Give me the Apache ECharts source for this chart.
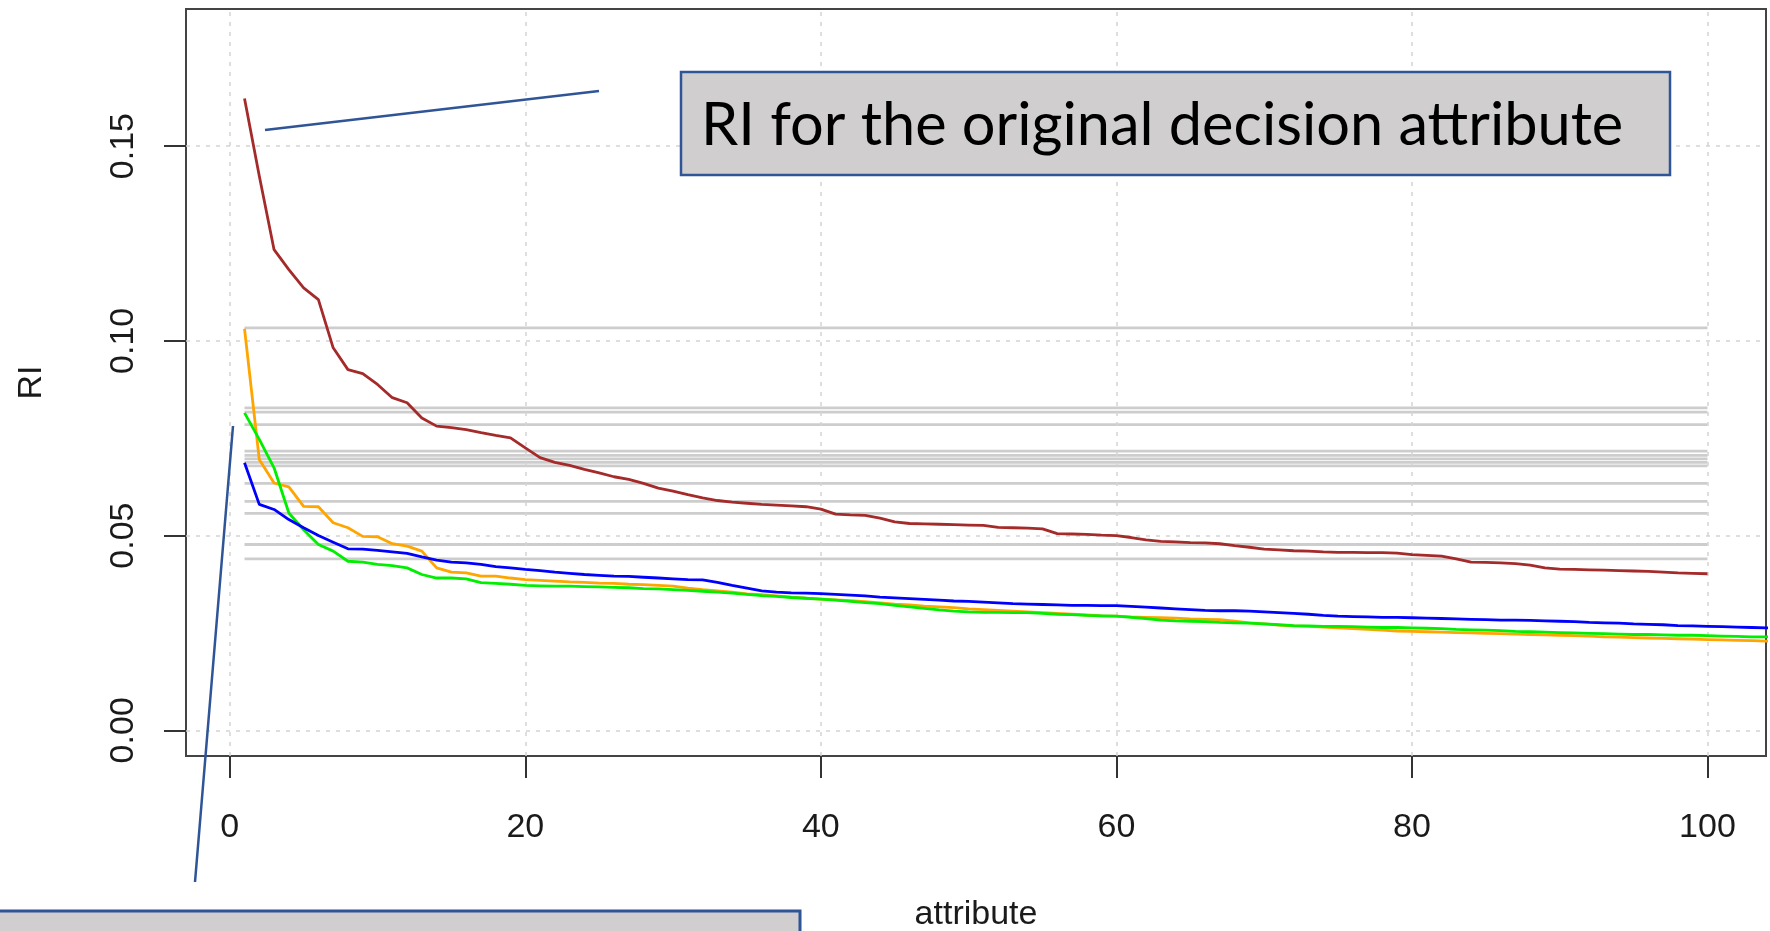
<!DOCTYPE html>
<html>
<head>
<meta charset="utf-8">
<script src="https://cdn.jsdelivr.net/npm/echarts@6/dist/echarts.min.js"></script>
<style>
html,body{margin:0;padding:0;background:#fff;}
#chart{width:1770px;height:931px;}
</style>
</head>
<body>
<div id="chart"></div>
<script>
// ---- data ----
const xTicks = [0, 20, 40, 60, 80, 100];
const yTicks = [0, 0.05, 0.10, 0.15];

const riOriginal = [
0.1622,0.1423,0.1234,0.1183,0.1136,0.1106,0.0982,0.0926,0.0916,0.0888,
0.0854,0.0841,0.0802,0.0781,0.0777,0.0772,0.0764,0.0757,0.0751,0.0725,
0.0700,0.0688,0.0680,0.0670,0.0661,0.0651,0.0644,0.0634,0.0622,0.0614,
0.0605,0.0597,0.0590,0.0586,0.0583,0.0580,0.0578,0.0576,0.0574,0.0568,
0.0555,0.0553,0.0552,0.0545,0.0535,0.0531,0.0530,0.0529,0.0528,0.0527,
0.0526,0.0521,0.0520,0.0519,0.0517,0.0505,0.0504,0.0503,0.0501,0.0500,
0.0495,0.0489,0.0485,0.0484,0.0482,0.0481,0.0479,0.0474,0.0470,0.0465,
0.0463,0.0461,0.0460,0.0458,0.0457,0.0457,0.0456,0.0456,0.0455,0.0451,
0.0449,0.0447,0.0440,0.0432,0.0431,0.0430,0.0428,0.0424,0.0417,0.0414,
0.0413,0.0412,0.0411,0.0410,0.0409,0.0408,0.0406,0.0404,0.0403,0.0402
];
const riOrange = [
0.1031,0.0695,0.0635,0.0625,0.0575,0.0574,0.0533,0.0520,0.0498,0.0497,
0.0479,0.0473,0.0460,0.0417,0.0406,0.0404,0.0396,0.0396,0.0391,0.0387,
0.0385,0.0383,0.0381,0.0380,0.0378,0.0377,0.0375,0.0374,0.0372,0.0370,
0.0365,0.0361,0.0358,0.0355,0.0350,0.0348,0.0345,0.0342,0.0339,0.0337,
0.0335,0.0333,0.0330,0.0327,0.0324,0.0322,0.0319,0.0317,0.0315,0.0312,
0.0310,0.0308,0.0306,0.0304,0.0302,0.0300,0.0298,0.0296,0.0294,0.0293,
0.0291,0.0290,0.0289,0.0288,0.0286,0.0285,0.0284,0.0280,0.0276,0.0273,
0.0270,0.0268,0.0267,0.0265,0.0263,0.0261,0.0259,0.0257,0.0255,0.0254,
0.0253,0.0252,0.0251,0.0250,0.0249,0.0248,0.0247,0.0246,0.0245,0.0244,
0.0243,0.0242,0.0240,0.0239,0.0238,0.0237,0.0236,0.0235,0.0234,0.0233,
0.0232,0.0231,0.0230,0.0229,0.0228
];
const riGreen = [
0.0815,0.0747,0.0674,0.0558,0.0515,0.0477,0.0460,0.0434,0.0432,0.0426,
0.0423,0.0417,0.0400,0.0391,0.0391,0.0389,0.0379,0.0377,0.0375,0.0372,
0.0371,0.0370,0.0370,0.0369,0.0368,0.0367,0.0366,0.0364,0.0363,0.0361,
0.0359,0.0357,0.0355,0.0352,0.0349,0.0346,0.0344,0.0341,0.0339,0.0337,
0.0334,0.0331,0.0328,0.0325,0.0321,0.0317,0.0313,0.0309,0.0306,0.0304,
0.0303,0.0303,0.0302,0.0302,0.0300,0.0298,0.0297,0.0295,0.0294,0.0293,
0.0290,0.0287,0.0283,0.0281,0.0280,0.0279,0.0277,0.0276,0.0275,0.0273,
0.0271,0.0269,0.0268,0.0267,0.0267,0.0266,0.0265,0.0264,0.0264,0.0263,
0.0262,0.0261,0.0259,0.0258,0.0257,0.0256,0.0254,0.0253,0.0252,0.0251,
0.0250,0.0249,0.0248,0.0247,0.0246,0.0246,0.0245,0.0244,0.0244,0.0243,
0.0242,0.0241,0.0240,0.0240,0.0239
];
const riBlue = [
0.0687,0.0580,0.0567,0.0541,0.0520,0.0500,0.0483,0.0466,0.0465,0.0462,
0.0458,0.0454,0.0445,0.0437,0.0432,0.0430,0.0426,0.0420,0.0417,0.0413,
0.0410,0.0406,0.0403,0.0400,0.0398,0.0396,0.0395,0.0393,0.0391,0.0389,
0.0387,0.0386,0.0380,0.0372,0.0365,0.0358,0.0355,0.0353,0.0352,0.0351,
0.0349,0.0347,0.0345,0.0342,0.0340,0.0338,0.0336,0.0334,0.0332,0.0331,
0.0329,0.0327,0.0325,0.0324,0.0323,0.0322,0.0321,0.0321,0.0320,0.0320,
0.0318,0.0316,0.0314,0.0312,0.0310,0.0308,0.0307,0.0307,0.0306,0.0304,
0.0302,0.0300,0.0298,0.0295,0.0293,0.0292,0.0291,0.0290,0.0290,0.0289,
0.0288,0.0287,0.0286,0.0285,0.0284,0.0283,0.0283,0.0282,0.0281,0.0280,
0.0279,0.0277,0.0276,0.0275,0.0273,0.0272,0.0271,0.0269,0.0268,0.0267,
0.0266,0.0265,0.0264,0.0263,0.0262
];
// horizontal reference levels (grey lines, attribute 1..100)
const greyLevels = [0.1033,0.0828,0.0817,0.0785,0.0717,0.0706,0.0697,0.0688,0.0679,0.0634,0.0588,0.0557,0.0477,0.0440];
const greySpan = [1, 100];

const calloutTop = 'RI for the original decision attribute';

// ---- chart ----
const toPairs = arr => arr.map((v, i) => [i + 1, v]);
const chart = echarts.init(document.getElementById('chart'));

const series = [];
greyLevels.forEach((lv, k) => {
  series.push({
    type: 'line', silent: true, symbol: 'none', z: 2,
    data: greySpan.map(x => [x, lv]),
    lineStyle: {color: '#cdcdcd', width: 2.8},
    markLine: k === 0 ? {
      silent: true, symbol: ['none', 'none'], label: {show: false},
      lineStyle: {color: '#d3d3d3', type: [4, 6], width: 1.5},
      data: xTicks.map(v => ({xAxis: v})).concat(yTicks.map(v => ({yAxis: v})))
    } : undefined
  });
});
const coloured = [
  [riOriginal, '#a52a2a'],
  [riOrange, '#ffa500'],
  [riGreen, '#00ee00'],
  [riBlue, '#0000ff']
];
coloured.forEach(([arr, col]) => {
  series.push({type: 'line', symbol: 'none', z: 5, clip: true,
    data: toPairs(arr), lineStyle: {color: col, width: 2.8}});
});

const axisFont = {fontFamily: 'Liberation Sans, Arial, sans-serif', fontSize: 34, color: '#1a1a1a'};

chart.setOption({
  animation: false,
  backgroundColor: '#fff',
  grid: {left: 186, top: 9, right: 4, bottom: 175, show: true, borderColor: '#444', borderWidth: 2,
         backgroundColor: 'transparent', containLabel: false, outerBoundsMode: 'none'},
  xAxis: {
    type: 'value', min: -2.96, max: 103.96,
    name: 'attribute', nameLocation: 'middle', nameGap: 142,
    nameTextStyle: axisFont,
    axisLine: {show: false, onZero: false},
    splitLine: {show: false},
    axisTick: {show: true, inside: false, length: 22, customValues: xTicks, lineStyle: {color: '#333', width: 2}},
    axisLabel: Object.assign({customValues: xTicks, margin: 55}, axisFont)
  },
  yAxis: {
    type: 'value', min: -0.0066, max: 0.1852,
    name: 'RI', nameLocation: 'middle', nameGap: 137, nameRotate: 90,
    nameTextStyle: axisFont,
    axisLine: {show: false, onZero: false},
    splitLine: {show: false},
    axisTick: {show: true, inside: false, length: 22, customValues: yTicks, lineStyle: {color: '#333', width: 2}},
    axisLabel: Object.assign({customValues: yTicks, margin: 45, rotate: 90, formatter: v => v.toFixed(2)}, axisFont)
  },
  series: series,
  graphic: [
    {type: 'line', z: 100, shape: {x1: 265, y1: 130, x2: 599, y2: 91}, style: {stroke: '#2f5597', lineWidth: 2.5}},
    {type: 'line', z: 100, shape: {x1: 233, y1: 426, x2: 195, y2: 882}, style: {stroke: '#2f5597', lineWidth: 2.5}},
    {type: 'rect', z: 100, shape: {x: 681, y: 72, width: 989, height: 103}, style: {fill: '#d0cece', stroke: '#2f5597', lineWidth: 2.5}},
    {type: 'text', z: 101, style: {text: calloutTop, x: 701, y: 126, fontSize: 59.5, fontFamily: 'Lato, sans-serif', fill: '#000', align: 'left', verticalAlign: 'middle'}},
    {type: 'rect', z: 100, shape: {x: -3, y: 911, width: 803, height: 40}, style: {fill: '#d0cece', stroke: '#2f5597', lineWidth: 3}}
  ]
});
</script>
</body>
</html>
